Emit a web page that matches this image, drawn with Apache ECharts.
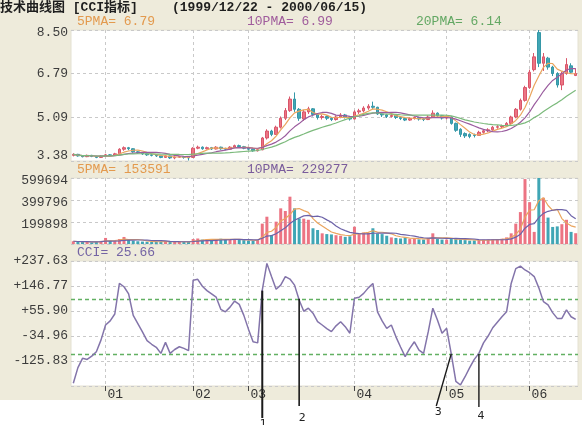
<!DOCTYPE html>
<html><head><meta charset="utf-8">
<script src="https://cdn.jsdelivr.net/npm/echarts@6/dist/echarts.min.js"></script>
<style>
html,body{margin:0;padding:0;background:#fff;}
#c{width:582px;height:425px;background:linear-gradient(to bottom,#eeebdb 0,#eeebdb 400px,#ffffff 400px);}
</style></head><body><div id="c"></div>
<script>
// ---- data ----
const dates = [
 '1999/12/22','1999/12/23','1999/12/24','1999/12/27','1999/12/28','1999/12/29','1999/12/30',
 '2000/01/04','2000/01/05','2000/01/06','2000/01/07','2000/01/10','2000/01/11','2000/01/12','2000/01/13','2000/01/14','2000/01/17','2000/01/18','2000/01/19','2000/01/20','2000/01/21','2000/01/24','2000/01/25','2000/01/26','2000/01/27','2000/01/28',
 '2000/02/14','2000/02/15','2000/02/16','2000/02/17','2000/02/18','2000/02/21','2000/02/22','2000/02/23','2000/02/24','2000/02/25','2000/02/28','2000/02/29',
 '2000/03/01','2000/03/02','2000/03/03','2000/03/06','2000/03/07','2000/03/08','2000/03/09','2000/03/10','2000/03/13','2000/03/14','2000/03/15','2000/03/16','2000/03/17','2000/03/20','2000/03/21','2000/03/22','2000/03/23','2000/03/24','2000/03/27','2000/03/28','2000/03/29','2000/03/30','2000/03/31',
 '2000/04/03','2000/04/04','2000/04/05','2000/04/06','2000/04/07','2000/04/10','2000/04/11','2000/04/12','2000/04/13','2000/04/14','2000/04/17','2000/04/18','2000/04/19','2000/04/20','2000/04/21','2000/04/24','2000/04/25','2000/04/26','2000/04/27','2000/04/28',
 '2000/05/08','2000/05/09','2000/05/10','2000/05/11','2000/05/12','2000/05/15','2000/05/16','2000/05/17','2000/05/18','2000/05/19','2000/05/22','2000/05/23','2000/05/24','2000/05/25','2000/05/26','2000/05/29','2000/05/30','2000/05/31',
 '2000/06/01','2000/06/02','2000/06/05','2000/06/06','2000/06/07','2000/06/08','2000/06/09','2000/06/12','2000/06/13','2000/06/14','2000/06/15'
];
const openP = [
 3.60,3.64,3.58,3.55,3.60,3.56,3.52,
 3.57,3.62,3.60,3.66,3.84,3.90,3.86,3.74,3.70,3.66,3.62,3.60,3.58,3.52,3.58,3.50,3.53,3.55,3.52,
 3.52,3.88,3.92,3.86,3.90,3.85,3.92,3.86,3.84,3.92,3.98,3.94,
 3.88,3.84,3.78,3.82,4.28,4.55,4.42,4.70,5.05,5.35,5.80,5.40,5.02,5.30,5.42,5.20,5.08,5.12,5.05,5.00,5.10,5.18,5.10,
 5.02,5.30,5.34,5.45,5.52,5.48,5.22,5.18,5.12,5.16,5.08,5.04,4.98,5.04,5.08,5.02,5.00,5.10,5.25,5.15,
 5.06,5.10,4.85,4.62,4.45,4.42,4.40,4.38,4.50,4.56,4.60,4.70,4.72,4.75,4.85,5.10,5.40,5.75,
 6.25,6.95,8.40,7.20,7.40,7.05,6.80,6.35,6.80,7.10,6.72
];
const closeP = [
 3.64,3.58,3.55,3.60,3.56,3.52,3.57,
 3.62,3.60,3.66,3.84,3.90,3.86,3.74,3.70,3.66,3.62,3.60,3.58,3.52,3.58,3.50,3.53,3.55,3.52,3.50,
 3.88,3.92,3.86,3.90,3.85,3.92,3.86,3.84,3.92,3.98,3.94,3.88,
 3.84,3.78,3.82,4.28,4.55,4.42,4.70,5.05,5.35,5.80,5.40,5.05,5.30,5.42,5.20,5.08,5.12,5.05,5.00,5.10,5.18,5.10,5.02,
 5.30,5.34,5.45,5.52,5.48,5.22,5.18,5.12,5.16,5.08,5.04,4.98,5.04,5.08,5.02,5.00,5.10,5.25,5.15,5.06,
 5.10,4.85,4.58,4.42,4.36,4.34,4.38,4.50,4.56,4.60,4.70,4.72,4.75,4.85,5.10,5.40,5.75,6.25,
 6.85,7.45,7.20,7.45,7.05,6.80,6.35,6.80,7.15,6.85,6.80
];
const lowP = [
 3.56,3.55,3.52,3.53,3.53,3.49,3.50,
 3.55,3.57,3.58,3.64,3.78,3.80,3.70,3.66,3.62,3.58,3.56,3.54,3.49,3.50,3.46,3.45,3.50,3.47,3.40,
 3.50,3.84,3.82,3.83,3.81,3.83,3.82,3.80,3.82,3.88,3.90,3.84,
 3.80,3.74,3.75,3.80,4.22,4.35,4.40,4.65,4.98,5.30,5.30,4.95,4.95,5.22,5.12,5.00,5.00,4.98,4.94,4.96,5.05,5.04,4.96,
 5.00,5.22,5.28,5.38,5.40,5.18,5.10,5.06,5.08,5.02,4.98,4.94,4.95,5.00,4.96,4.94,4.98,5.06,5.10,5.00,
 5.00,4.80,4.52,4.32,4.28,4.27,4.30,4.38,4.45,4.50,4.56,4.64,4.66,4.72,4.82,5.05,5.35,5.70,
 6.20,6.88,7.05,6.90,6.95,6.70,6.25,6.15,6.75,6.80,6.70
];
const highP = [
 3.68,3.66,3.60,3.63,3.62,3.58,3.60,
 3.66,3.65,3.70,3.88,3.95,3.93,3.88,3.77,3.72,3.68,3.65,3.62,3.60,3.61,3.59,3.56,3.58,3.57,3.55,
 3.92,3.98,3.95,3.94,3.93,3.96,3.94,3.90,3.96,4.02,4.02,3.97,
 3.91,3.86,3.86,4.32,4.62,4.60,4.76,5.12,5.45,5.90,6.06,5.45,5.38,5.50,5.45,5.24,5.18,5.16,5.10,5.16,5.25,5.22,5.14,
 5.36,5.42,5.52,5.60,5.70,5.50,5.26,5.22,5.22,5.18,5.12,5.08,5.08,5.12,5.10,5.06,5.16,5.36,5.28,5.18,
 5.14,5.12,4.88,4.66,4.50,4.46,4.45,4.56,4.62,4.66,4.75,4.78,4.80,4.90,5.15,5.45,5.82,6.32,
 6.95,7.60,8.50,7.60,7.45,7.10,6.85,6.88,7.40,7.20,7.00
];
const volume = [
 25000,20000,18000,22000,15000,20000,28000,
 55000,30000,25000,45000,64000,40000,30000,25000,22000,20000,18000,20000,22000,25000,18000,20000,22000,18000,20000,
 45000,50000,40000,42000,35000,45000,48000,40000,38000,42000,40000,35000,
 30000,28000,35000,185000,248000,82000,203000,324000,300000,430000,324000,233000,230000,220000,143000,127000,97000,90000,87000,80000,75000,65000,70000,
 157000,97000,105000,100000,143000,95000,90000,75000,60000,55000,50000,60000,45000,50000,42000,40000,55000,97000,45000,40000,
 40000,45000,50000,40000,35000,30000,32000,35000,38000,40000,42000,45000,48000,60000,97000,185000,290000,590000,
 380000,110000,599694,420000,240000,155000,160000,180000,220000,110000,98000
];
const cci = [
 -207,-150,-116,-120,-108,-92,-50,
 5,20,45,156,144,118,40,10,-20,-52,-65,-76,-98,-58,-98,-84,-74,-80,-88,
 168,171,146,130,118,106,62,53,70,92,80,40,
 -10,-56,-60,132,229,181,135,150,181,172,150,96,55,66,48,17,5,-8,-19,2,17,-1,-25,
 102,106,120,140,156,53,20,-7,5,-38,-75,-110,-80,-56,-86,-98,-20,66,23,-25,
 -7,-100,-200,-213,-183,-150,-120,-98,-60,-35,-5,15,35,53,156,210,219,205,
 195,181,140,90,78,50,29,29,60,35,25.66
];
const priceRange = [3.38, 8.50];
const volRange = [0, 599694];
const cciRange = [-216.69, 237.63];
const cciBands = [100, -100];
const signalIdx = [41, 49, 82, 88];
const signalLevel = [130, 100, -100, -100];
const signalNames = ['1', '2', '3', '4'];
const headerTitle = '技术曲线图 [CCI指标]';
const headerDates = '(1999/12/22 - 2000/06/15)';
const priceMaLabels = ['5PMA= 6.79', '10PMA= 6.99', '20PMA= 6.14'];
const volMaLabels = ['5PMA= 153591', '10PMA= 229277'];
const cciLabel = 'CCI= 25.66';

// ---- helpers ----
function ma(arr, n) {
  return arr.map((v, i) => {
    const s = Math.max(0, i - n + 1);
    let sum = 0;
    for (let k = s; k <= i; k++) sum += arr[k];
    return +(sum / (i - s + 1)).toFixed(4);
  });
}
function monthStart(i) {
  return i > 0 && dates[i].slice(5, 7) !== dates[i - 1].slice(5, 7);
}
const UP = '#ec7483', DOWN = '#40a6b5';
const GRID_LINE = { type: [3, 3], color: '#c9c9c9', width: 1 };
const MONO = '"Liberation Mono","DejaVu Sans Mono",monospace';
const LABEL_STYLE = { color: '#3c3c3c', fontFamily: MONO, fontSize: 13 };

const chart = echarts.init(document.getElementById('c'), null, { renderer: 'canvas' });

const grids = [
  { left: 71, top: 30, width: 507, height: 131 },
  { left: 71, top: 178, width: 507, height: 66 },
  { left: 71, top: 261, width: 507, height: 125 }
].map(g => Object.assign(g, { show: true, backgroundColor: '#ffffff', borderColor: '#e4e1d2', borderWidth: 1, containLabel: false }));

const xAxes = [0, 1, 2].map(g => ({
  type: 'category', gridIndex: g, data: dates, boundaryGap: true, position: 'bottom',
  axisLine: { show: false, onZero: false },
  axisTick: { show: g === 2, alignWithLabel: true, interval: (i) => monthStart(i), length: 5, lineStyle: { color: '#444' } },
  axisLabel: { show: g === 2, interval: (i) => monthStart(i), formatter: v => v.slice(5, 7), align: 'left', margin: 2, padding: [0, 0, 0, 2], color: '#333', fontFamily: MONO, fontSize: 13 },
  splitLine: { show: true, interval: (i) => monthStart(i), alignWithLabel: true, lineStyle: GRID_LINE }
}));

const yCommon = {
  type: 'value', axisLine: { show: false }, axisTick: { show: false },
  splitLine: { show: true, lineStyle: GRID_LINE }
};
const eps = 1e-6;
const yAxes = [
  Object.assign({}, yCommon, { gridIndex: 0, min: priceRange[0], max: priceRange[1], interval: (priceRange[1] - priceRange[0]) / 3,
    axisLabel: { margin: 3,
      formatter: v => Math.abs(v - priceRange[1]) < eps ? '{t|' + v.toFixed(2) + '}' : Math.abs(v - priceRange[0]) < eps ? '{b|' + v.toFixed(2) + '}' : '{m|' + v.toFixed(2) + '}',
      rich: { t: Object.assign({ padding: [5, 0, 0, 0] }, LABEL_STYLE), b: Object.assign({ padding: [0, 0, 10, 0] }, LABEL_STYLE), m: LABEL_STYLE } } }),
  Object.assign({}, yCommon, { gridIndex: 1, min: volRange[0], max: volRange[1], interval: volRange[1] / 3,
    axisLabel: { showMinLabel: false, margin: 3, formatter: v => '{m|' + Math.round(v) + '}',
      rich: { m: Object.assign({ padding: [6, 0, 0, 0] }, LABEL_STYLE) } } }),
  Object.assign({}, yCommon, { gridIndex: 2, min: cciRange[0], max: cciRange[1], interval: (cciRange[1] - cciRange[0]) / 5,
    axisLabel: Object.assign({ showMinLabel: false, margin: 3, formatter: v => (v > 0 ? '+' : '') + v.toFixed(2) }, LABEL_STYLE) })
];

const candleData = dates.map((d, i) => [openP[i], closeP[i], lowP[i], highP[i]]);
const volData = volume.map((v, i) => ({ value: v, itemStyle: { color: closeP[i] >= openP[i] ? UP : DOWN } }));

function lineSeries(name, data, color, xi, yi, w) {
  return { name, type: 'line', data, xAxisIndex: xi, yAxisIndex: yi, showSymbol: false, symbol: 'none',
    lineStyle: { color, width: w || 1.2 }, itemStyle: { color }, z: 5, animation: false };
}

function txt(x, y, text, fill, font) {
  return { type: 'text', x, y, silent: true, style: { text, fill, font: font || ('13px ' + MONO), verticalAlign: 'middle', align: 'left' } };
}
const headerGraphics = [
  txt(0, 8, headerTitle, '#1e1e1e', 'bold 13px ' + MONO + ',"Noto Sans CJK SC"'),
  txt(172, 8, headerDates, '#1e1e1e', 'bold 13px ' + MONO),
  txt(77, 22, priceMaLabels[0], '#e39a4e'),
  txt(247, 22, priceMaLabels[1], '#a05c9c'),
  txt(416, 22, priceMaLabels[2], '#64a864'),
  txt(77, 170, volMaLabels[0], '#e39a4e'),
  txt(247, 170, volMaLabels[1], '#7a5c9c'),
  txt(77, 253, cciLabel, '#7464a4')
];

const option = {
  animation: false,
  backgroundColor: 'transparent',
  grid: grids,
  xAxis: xAxes,
  yAxis: yAxes,
  series: [
    { type: 'candlestick', name: 'K', data: candleData, xAxisIndex: 0, yAxisIndex: 0, barWidth: 3,
      itemStyle: { color: UP, color0: DOWN, borderColor: '#d9566a', borderColor0: '#3597a7', borderWidth: 1 } },
    lineSeries('MA5', ma(closeP, 5), '#eaa55e', 0, 0),
    lineSeries('MA10', ma(closeP, 10), '#9a5c9e', 0, 0),
    lineSeries('MA20', ma(closeP, 20), '#7cba7c', 0, 0),
    { type: 'bar', name: 'VOL', data: volData, xAxisIndex: 1, yAxisIndex: 1, barWidth: 3 },
    lineSeries('VMA5', ma(volume, 5), '#eaa55e', 1, 1),
    lineSeries('VMA10', ma(volume, 10), '#6c62a8', 1, 1),
    Object.assign(lineSeries('CCI', cci, '#8374aa', 2, 2, 1.5), {
      markLine: { silent: true, symbol: 'none', label: { show: false },
        lineStyle: { type: [4, 3], color: '#62b062', width: 1.4 },
        data: cciBands.map(v => ({ yAxis: v })) } })
  ],
  graphic: headerGraphics
};
chart.setOption(option);

// annotation lines anchored to the signal days / CCI levels
const annBottom = [418, 406, 406, 407];
const annDx = [0, 0, -15, 0];
const annLabelOff = [[1, 6], [3, 12], [2, 6], [2, 9]];
const annWidth = [2, 1.6, 1.4, 1.4];
const ann = [];
signalIdx.forEach((idx, k) => {
  const p = chart.convertToPixel({ gridIndex: 2 }, [idx, signalLevel[k]]);
  const x0 = p[0], y0 = p[1];
  const x1 = x0 + annDx[k], y1 = annBottom[k];
  ann.push({ type: 'line', silent: true, shape: { x1: x0, y1: y0, x2: x1, y2: y1 }, style: { stroke: '#1a1a1a', lineWidth: annWidth[k] }, z: 100 });
  ann.push({ type: 'text', silent: true, x: x1 + annLabelOff[k][0], y: y1 + annLabelOff[k][1],
    style: { text: signalNames[k], fill: '#222', font: '11px "DejaVu Sans",sans-serif', align: 'center', verticalAlign: 'middle' }, z: 100 });
});
chart.setOption({ graphic: headerGraphics.concat(ann) });
</script>
</body></html>
